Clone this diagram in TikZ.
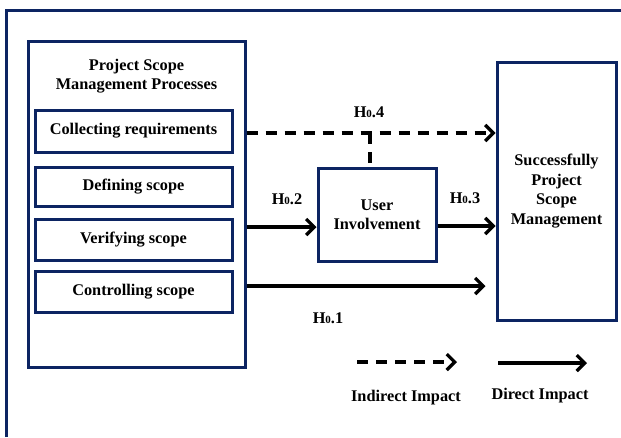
\documentclass[tikz,border=0pt]{standalone}
\usepackage{fontspec}
\setmainfont{Liberation Serif}
\usetikzlibrary{arrows.meta,positioning}
\definecolor{scopenavy}{RGB}{12,36,98}
\newcommand{\hnull}[1]{H{\fontsize{11}{11}\selectfont 0}.#1}

\begin{document}
\begin{tikzpicture}[x=1pt, y=-1pt,
	every node/.style={font=\bfseries\fontsize{16.3}{19.5}\selectfont, align=center},
	procbox/.style={draw=scopenavy, line width=3pt, minimum width=197pt},
	bigbox/.style={draw=scopenavy, line width=3pt},
	direct/.style={line width=3.2pt, -{Straight Barb[length=8pt, width=16pt]}},
	indirect/.style={direct, dash pattern=on 11pt off 8pt}]

	\useasboundingbox (0,0) rectangle (621,437);
	\draw[scopenavy, line width=3pt] (6,437) -- (6,10) -- (621,10);

	\node [bigbox, minimum width=217pt, minimum height=326pt] (procs) at (136.5,204) {};
	\node (procs title) at (136.5,76) {Project Scope\\Management Processes};

	\node [procbox, minimum height=42pt] (collect) at (133.5,131) {Collecting requirements};
	\node [procbox, minimum height=39pt, below=12pt of collect] (define) {Defining scope};
	\node [procbox, minimum height=41pt, below=10pt of define] (verify) {Verifying scope};
	\node [procbox, minimum height=41pt, below=8.5pt of verify] (control) {Controlling scope};

	\node [bigbox, minimum width=118pt, minimum height=93pt] (user) at (377,214.5)
		{User\\Involvement};
	\node [bigbox, minimum width=119pt, minimum height=258pt] (success) at (556.5,191)
		{Successfully\\Project\\Scope\\Management};

	\coordinate (h4 turn) at (370,133);
	\draw[indirect] (procs.east |- h4 turn) -- (success.west |- h4 turn);
	\draw[line width=3.2pt, dash pattern=on 11pt off 8pt] (h4 turn) -- (user.north -| h4 turn);
	\node (h4) at (369,112) {\hnull{4}};

	\draw[direct] (procs.east |- 0,227) -- (user.west |- 0,227);
	\node (h2) at (287,199) {\hnull{2}};

	\draw[direct] (user.east |- 0,226) -- (success.west |- 0,226);
	\node (h3) at (465,198) {\hnull{3}};

	\draw[direct] (procs.east |- 0,286) -- ([xshift=-10pt]success.west |- 0,286);
	\node (h1) at (328,318) {\hnull{1}};

	% legend
	\coordinate (ind start) at (357,362);
	\coordinate (ind end) at (457,362);
	\draw[indirect] (ind start) -- (ind end);
	\node (ind label) at (406,398) {Indirect Impact};

	\coordinate (dir start) at (498,363);
	\coordinate (dir end) at (587,363);
	\draw[direct] (dir start) -- (dir end);
	\node (dir label) at (540,396) {Direct Impact};

\end{tikzpicture}
\end{document}
